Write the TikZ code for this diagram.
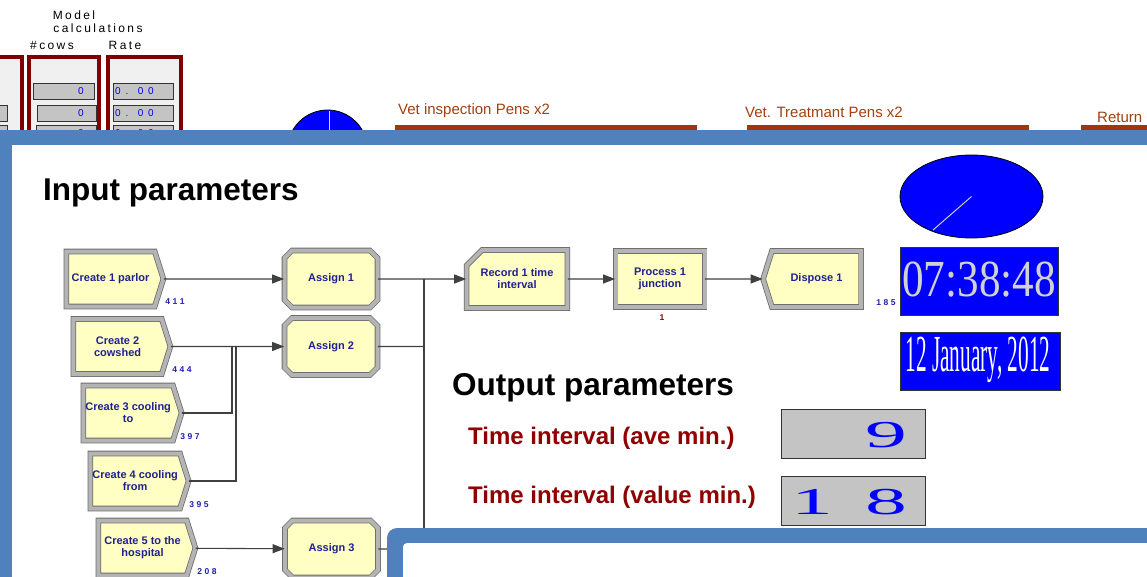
\documentclass[tikz,border=0pt]{standalone}
\usepackage{fontspec}
\setmainfont{Liberation Sans}
\newfontfamily\clockfont{Liberation Serif}
\newfontfamily\pixfont[LetterSpace=20]{Liberation Sans}
\usetikzlibrary{shapes.symbols,shapes.misc,shapes.geometric,arrows.meta,positioning}

\definecolor{panelblue}{HTML}{4F81BD}
\definecolor{modfill}{HTML}{FFFFC4}
\definecolor{modtext}{HTML}{202090}
\definecolor{bevel}{HTML}{B4B4B4}
\definecolor{bevelline}{HTML}{6E6E6E}
\definecolor{penline}{HTML}{A0360C}
\definecolor{pentext}{HTML}{A04010}
\definecolor{calcred}{HTML}{800000}
\definecolor{outred}{HTML}{900000}
\definecolor{fieldgray}{HTML}{C4C4C4}
\definecolor{cntblue}{HTML}{2020B0}
\definecolor{pureblue}{HTML}{0000FF}

\newcommand\modcount[3]{#1\kern2.5pt#2\kern2.5pt#3}

\begin{document}
\begin{tikzpicture}[x=1pt, y=-1pt,
    module/.style={draw=bevelline, double=bevel, double distance=4pt, line width=0.8pt,
        fill=modfill, text=modtext, font=\fontsize{11}{12}\selectfont\bfseries,
        align=center, inner sep=2pt},
    create/.style={module, signal, signal to=east, signal pointer angle=145,
        minimum width=97pt, minimum height=55pt},
    assign/.style={module, chamfered rectangle, chamfered rectangle xsep=4pt,
        minimum width=93pt, minimum height=57pt},
    record/.style={module, chamfered rectangle, chamfered rectangle corners=north west,
        chamfered rectangle xsep=14pt, minimum width=93pt, minimum height=58pt},
    process/.style={module, rectangle, minimum width=89pt, minimum height=56pt},
    dispose/.style={module, signal, signal to=west, signal pointer angle=145,
        minimum width=98pt, minimum height=56pt},
    flow/.style={draw=black!75, line width=1.1pt, -{Triangle[length=12pt,width=9pt]}},
    wire/.style={draw=black!75, line width=1.1pt},
    counter/.style={text=cntblue, font=\fontsize{8.5}{9}\selectfont\bfseries, inner sep=0pt},
    pix/.style={font=\pixfont\fontsize{12}{13}\selectfont, inner sep=0pt},
    field/.style={draw=black!80, line width=0.8pt, fill=fieldgray},
    calcframe/.style={draw=calcred, line width=4pt, fill=black!6},
    penlabel/.style={text=pentext, font=\fontsize{15}{16}\selectfont, inner sep=0pt, anchor=west},
    penbar/.style={draw=penline, line width=5pt},
    heading/.style={font=\fontsize{31.5}{34}\selectfont\bfseries, inner sep=0pt, anchor=west},
    outlabel/.style={text=outred, font=\fontsize{24}{26}\selectfont\bfseries, inner sep=0pt, anchor=west},
    outbox/.style={draw=black!80, line width=1pt, fill=fieldgray, minimum width=144pt, minimum height=49pt},
    digit/.style={text=pureblue, font=\clockfont\fontsize{38}{40}\selectfont, inner sep=0pt},
    clockbox/.style={draw=black!80, line width=0.8pt, fill=pureblue, inner sep=0pt}]

\useasboundingbox (0,0) rectangle (1147,577);

% model calculations behind the window
\node[pix] (mdl) at (74,15) {Model};
\node[pix] (calc) at (98,28) {calculations};
\node[pix] (cows) at (52,45) {\#cows};
\node[pix] (rate) at (125,45) {Rate};
\node[pix, anchor=east] (tme) at (19,66) {me};

\draw[calcframe] (-10,57) rectangle (22,140);
\draw[calcframe] (29,57) rectangle (99,140);
\draw[calcframe] (108,57) rectangle (181,140);

\draw[field] (-5,105) rectangle (7,121);
\draw[field] (-5,125) rectangle (7,140);
\draw[field] (33,83) rectangle (94,99);
\draw[field] (37,105) rectangle (96,121);
\draw[field] (36,125) rectangle (96,140);
\draw[field] (113,83) rectangle (173,99);
\draw[field] (113,105) rectangle (173,121);
\draw[field] (113,125) rectangle (173,140);
\foreach \y in {91,113,133} {
    \node[pix, text=pureblue, font=\pixfont\fontsize{10}{11}\selectfont] at (81,\y) {0};
    \node[pix, text=pureblue, font=\pixfont\fontsize{10}{11}\selectfont, anchor=west] at (115,\y) {0\ .\ \ 0\ 0};
}

% clock dial peeking out
\filldraw[fill=pureblue, draw=black, line width=0.8pt] (327.5,150) circle [radius=40];
\draw[black!15, line width=1pt] (329,150) -- (329,111);

% pen labels
\node[penlabel] (vetin) at (398,111) {Vet inspection Pens x2};
\node[penlabel] (vettr) at (745,112) {Vet. Treatmant Pens x2};
\node[penlabel] (ret) at (1097,117) {Return};
\draw[penbar] (395,127.5) -- (697,127.5);
\draw[penbar] (747,127.5) -- (1029,127.5);
\draw[penbar] (1081,127.5) -- (1160,127.5);

% window
\fill[panelblue] (0,130) rectangle (1147,577);
\fill[white] (12,145) rectangle (1147,577);

\node[heading] (inhead) at (43,193) {Input parameters};
\node[heading] (outhead) at (452,388) {Output parameters};

% create modules
\node[create, anchor=west] (cr1) at (66,279) {Create 1 parlor};
\node[create, anchor=west] (cr2) at (73,346.5) {Create 2\\cowshed};
\node[create, anchor=west] (cr3) at (83,413) {Create 3 cooling\\to};
\node[create, anchor=west] (cr4) at (90,481) {Create 4 cooling\\from};
\node[create, anchor=west] (cr5) at (98,548) {Create 5 to the\\hospital};

\node[counter] (n1) at (175,302) {\modcount 411};
\node[counter] (n2) at (182,370) {\modcount 444};
\node[counter] (n3) at (190,437) {\modcount 397};
\node[counter] (n4) at (199,505) {\modcount 395};
\node[counter] (n5) at (207,572) {\modcount 208};

% assign modules
\node[assign] (as1) at (331,279) {Assign 1};
\node[assign] (as2) at (331,346.5) {Assign 2};
\node[assign] (as3) at (331.5,549) {Assign 3};

% record, process, dispose
\node[record] (rec1) at (517,279) {Record 1 time\\interval};
\node[process] (proc1) at (660,279) {Process 1\\junction};
\node[dispose] (disp1) at (816.5,279) {Dispose 1};
\node[counter, text=outred] (np) at (662,318) {1};
\node[counter] (nd) at (886,303) {\modcount 185};

\coordinate (j3) at (232,346.5);
\coordinate (j4) at (236,346.5);
\coordinate (m1) at (424,279);
\coordinate (m2) at (424,530);
\coordinate (m3) at (424,346.5);
\coordinate (m4) at (400,549);

\draw[flow] (cr1) -- (as1);
\draw[flow] (cr2) -- (as2);
\draw[wire] (cr3.east) -| (j3);
\draw[wire] (cr4.east) -| (j4);
\draw[flow] (cr5) -- (as3);
\draw[flow] (as1) -- (rec1);
\draw[wire] (m1) -- (m2);
\draw[wire] (as2) -- (m3);
\draw[wire] (as3) -- (m4);
\draw[flow] (rec1) -- (proc1);
\draw[flow] (proc1) -- (disp1);

% clock and date
\node[ellipse, draw=black, line width=0.8pt, fill=pureblue, minimum width=143pt, minimum height=83pt] (dial) at (971.5,196.5) {};
\coordinate (hand) at (933,230);
\draw[black!20, line width=1pt] (dial.center) -- (hand);
\node[clockbox, minimum width=158pt, minimum height=68pt] (clk) at (979,281) {};
\node[text=black!18, font=\clockfont\fontsize{52}{54}\selectfont, inner sep=0pt] (time) at (979,280) {\scalebox{0.83}[1]{07:38:48}};
\node[clockbox, minimum width=160pt, minimum height=58pt] (dbox) at (980,361) {};
\node[text=white, font=\clockfont\fontsize{52}{54}\selectfont, inner sep=0pt] (date) at (978,360) {\scalebox{0.41}[1]{12 January, 2012}};

% output values
\node[outlabel] (ave) at (468,438) {Time interval (ave min.)};
\node[outlabel] (val) at (468,497) {Time interval (value min.)};
\node[outbox] (avebox) at (853,433.5) {};
\node[outbox] (valbox) at (853,501) {};
\node[digit, anchor=east] (d9) at (907,435.5) {\scalebox{2.2}[1]{9}};
\node[digit] (d1) at (812,502) {\scalebox{2.2}[1]{1}};
\node[digit, anchor=east] (d8) at (907,502) {\scalebox{2.2}[1]{8}};

% second window in front
\fill[panelblue, rounded corners=10pt] (387,600) |- (1160,528) -- (1160,600) -- cycle;
\fill[white, rounded corners=4pt] (403,600) |- (1160,543) -- (1160,600) -- cycle;
\end{tikzpicture}
\end{document}
